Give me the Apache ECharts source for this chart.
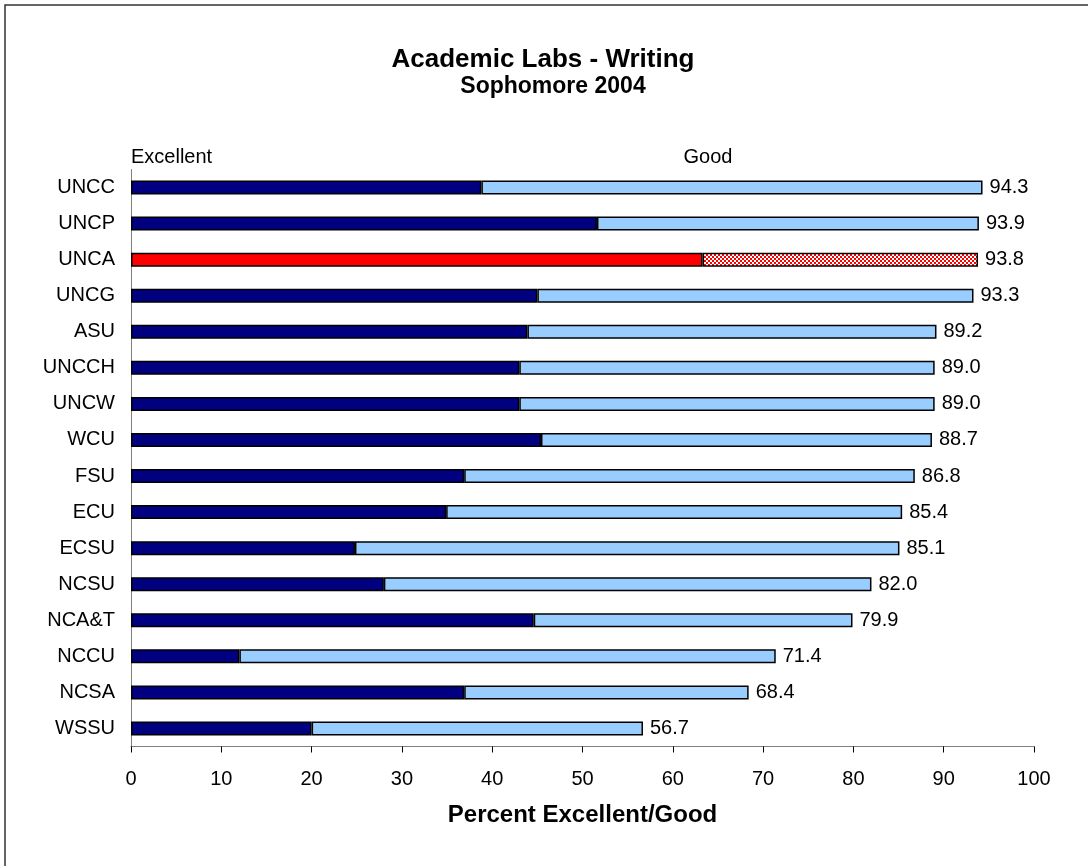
<!DOCTYPE html>
<html>
<head>
<meta charset="utf-8">
<script src="https://cdn.jsdelivr.net/npm/echarts@6/dist/echarts.min.js"></script>
<style>
html,body{margin:0;padding:0;background:#fff;}
#chart{width:1088px;height:866px;}
</style>
</head>
<body>
<div id="chart"></div>
<script>
const categories = ['UNCC','UNCP','UNCA','UNCG','ASU','UNCCH','UNCW','WCU','FSU','ECU','ECSU','NCSU','NCA&T','NCCU','NCSA','WSSU'];
const totals = [94.3, 93.9, 93.8, 93.3, 89.2, 89.0, 89.0, 88.7, 86.8, 85.4, 85.1, 82.0, 79.9, 71.4, 68.4, 56.7];
const excellent = [38.8, 51.6, 63.3, 45.0, 43.9, 43.0, 43.0, 45.4, 36.9, 34.9, 24.8, 28.0, 44.6, 12.0, 36.9, 20.0];
const xTicks = [0, 10, 20, 30, 40, 50, 60, 70, 80, 90, 100];
const highlight = 'UNCA';

const good = totals.map((t, i) => Math.round((t - excellent[i]) * 10) / 10);

// checker pattern for the highlighted "Good" segment
const pc = document.createElement('canvas');
pc.width = 4; pc.height = 4;
const ctx = pc.getContext('2d');
ctx.fillStyle = '#ffffff'; ctx.fillRect(0, 0, 4, 4);
ctx.fillStyle = '#ff0000'; ctx.fillRect(0, 0, 2, 2); ctx.fillRect(2, 2, 2, 2);

const FONT = 'Liberation Sans, Arial, sans-serif';

const chart = echarts.init(document.getElementById('chart'), null, {renderer: 'canvas'});
chart.setOption({
  animation: false,
  backgroundColor: '#ffffff',
  grid: {left: 131, right: 54, top: 169.5, bottom: 119.5, containLabel: false},
  graphic: [
    {type: 'rect', shape: {x: 5, y: 5, width: 1200, height: 1000}, style: {fill: 'none', stroke: '#333333', lineWidth: 1.5}, silent: true},
    {type: 'text', x: 543, y: 60, style: {text: 'Academic Labs - Writing', font: 'bold 26px ' + FONT, fill: '#000', textAlign: 'center', textVerticalAlign: 'middle'}},
    {type: 'text', x: 553, y: 87, style: {text: 'Sophomore 2004', font: 'bold 23px ' + FONT, fill: '#000', textAlign: 'center', textVerticalAlign: 'middle'}},
    {type: 'text', x: 131, y: 157, style: {text: 'Excellent', font: '20px ' + FONT, fill: '#000', textAlign: 'left', textVerticalAlign: 'middle'}},
    {type: 'text', x: 708, y: 157, style: {text: 'Good', font: '20px ' + FONT, fill: '#000', textAlign: 'center', textVerticalAlign: 'middle'}}
  ],
  xAxis: {
    type: 'value', min: 0, max: 100, interval: 10,
    name: 'Percent Excellent/Good', nameLocation: 'middle', nameGap: 57,
    nameTextStyle: {fontFamily: FONT, fontSize: 24, fontWeight: 'bold', color: '#000'},
    axisLine: {show: true, lineStyle: {color: '#808080', width: 1}},
    axisTick: {show: true, length: 6, lineStyle: {color: '#000', width: 1}},
    axisLabel: {margin: 23, fontFamily: FONT, fontSize: 20, color: '#000',
      formatter: v => xTicks.indexOf(v) >= 0 ? String(v) : ''},
    splitLine: {show: false}
  },
  yAxis: {
    type: 'category', data: categories, inverse: true,
    axisLine: {show: true, lineStyle: {color: '#808080', width: 1}},
    axisTick: {show: false},
    axisLabel: {margin: 16, fontFamily: FONT, fontSize: 20, color: '#000'},
    splitLine: {show: false}
  },
  series: [
    {
      name: 'Excellent', type: 'bar', stack: 'total', barWidth: 14,
      data: excellent.map((v, i) => ({
        value: v,
        itemStyle: categories[i] === highlight ? {color: '#ff0000'} : undefined
      })),
      itemStyle: {color: '#000080', borderColor: '#000000', borderWidth: 1.5}
    },
    {
      name: 'Good', type: 'bar', stack: 'total', barWidth: 14,
      data: good.map((v, i) => ({
        value: v,
        itemStyle: categories[i] === highlight ? {color: {image: pc, repeat: 'repeat'}} : undefined
      })),
      itemStyle: {color: '#99ccff', borderColor: '#000000', borderWidth: 1.5},
      label: {
        show: true, position: 'right', distance: 7,
        fontFamily: FONT, fontSize: 20, color: '#000',
        formatter: p => totals[p.dataIndex].toFixed(1)
      }
    }
  ]
});
</script>
</body>
</html>
